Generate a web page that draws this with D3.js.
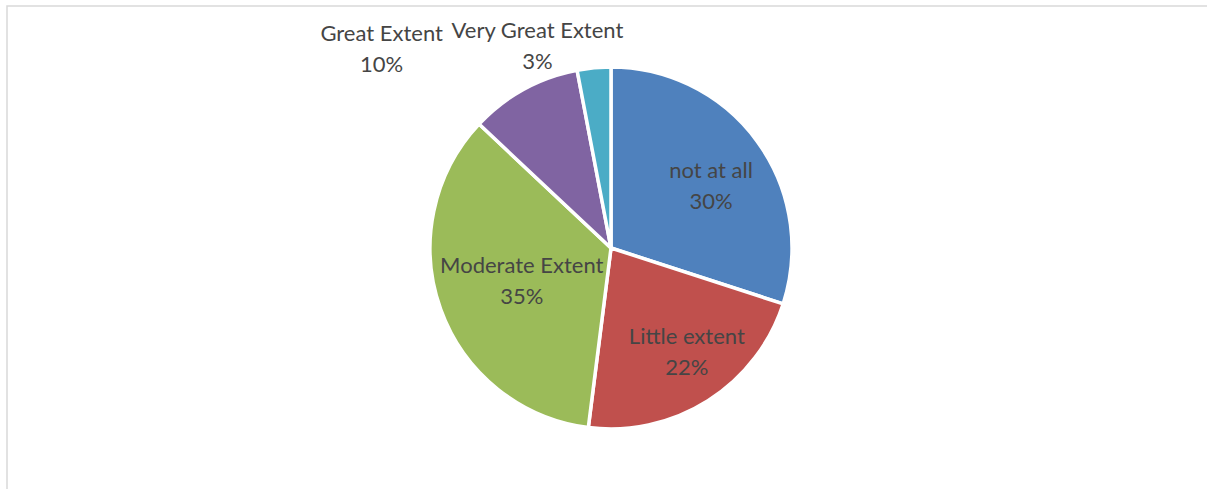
<!DOCTYPE html>
<html><head><meta charset="utf-8">
<script src="https://cdn.jsdelivr.net/npm/d3@7"></script>
<style>body{margin:0;background:#fff;} svg{display:block;}</style>
</head><body>
<svg id="c" width="1207" height="489"></svg>
<script>
const categories = ["not at all", "Little extent", "Moderate Extent", "Great Extent", "Very Great Extent"];
const values = [30, 22, 35, 10, 3];
const labels = ["30%", "22%", "35%", "10%", "3%"];
const colors = ["#4F81BD", "#C0504D", "#9BBB59", "#8064A2", "#4BACC6"];
// label placement: radius factor and pixel nudge
const labelRadius = [0.69, 0.72, 0.53, 1.3, 1.15];
const labelNudge = [[-1,4],[6,-13],[1,-6],[-116,0],[-54,-2]];

const svg = d3.select("#c");
svg.append("path").attr("d","M7,489 V6 H1207").attr("fill","none").attr("stroke","#d9d9d9").attr("stroke-width",1.5);

const cx = 611, cy = 248, R = 181;
const g = svg.append("g").attr("transform",`translate(${cx},${cy})`);
const pie = d3.pie().sort(null).value(d=>d)(values);
const arc = d3.arc().innerRadius(0).outerRadius(R);
g.selectAll("path.s").data(pie).enter().append("path")
  .attr("d", arc).attr("fill",(d,i)=>colors[i])
  .attr("stroke","#fff").attr("stroke-width",3.5).attr("stroke-linejoin","round");

pie.forEach((d,i)=>{
  const r = R*labelRadius[i];
  const a = (d.startAngle+d.endAngle)/2;
  const x = r*Math.sin(a)+labelNudge[i][0];
  const y = -r*Math.cos(a)+labelNudge[i][1];
  const t = g.append("text").attr("text-anchor","middle")
    .attr("font-family","Lato, 'Open Sans', sans-serif").attr("font-size",22).attr("fill","#454545");
  t.append("tspan").attr("x",x).attr("y",y-1).text(categories[i]);
  t.append("tspan").attr("x",x).attr("y",y+30).text(labels[i]);
});
</script>
</body></html>
